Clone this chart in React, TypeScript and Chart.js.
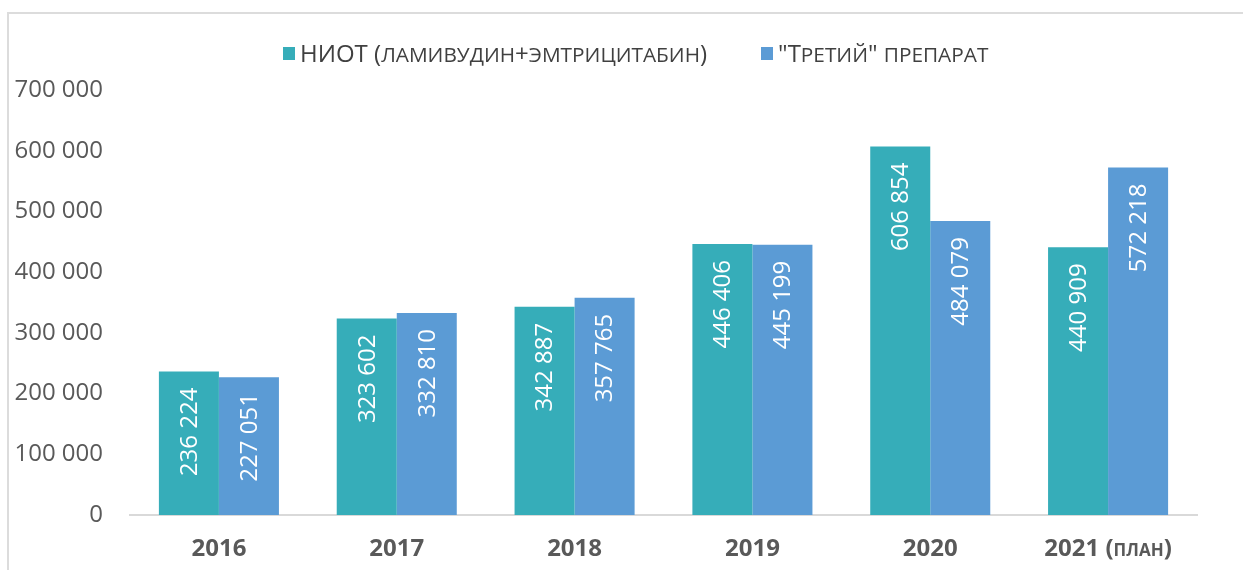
import React, { useEffect, useRef } from "react";
import { Chart, registerables } from "chart.js";

Chart.register(...registerables);

const categories = ["2016", "2017", "2018", "2019", "2020", "2021 (план)"];
const seriesNames = ["НИОТ (ламивудин+эмтрицитабин)", "\"Третий\" препарат"];
const niotValues = [236224, 323602, 342887, 446406, 606854, 440909];
const thirdValues = [227051, 332810, 357765, 445199, 484079, 572218];
const yTicks = [0, 100000, 200000, 300000, 400000, 500000, 600000, 700000];
const colors = ["#36ADB9", "#5B9BD5"];

const fmt = (v: number) => {
  const s = Math.round(v).toString();
  return s.replace(/\B(?=(\d{3})+(?!\d))/g, " ");
};

const FONT = "'Open Sans', 'DejaVu Sans', sans-serif";

const labelPlugin = {
  id: "barLabels",
  afterDatasetsDraw(chart: any) {
    const ctx = chart.ctx;
    chart.data.datasets.forEach((ds: any, di: number) => {
      const meta = chart.getDatasetMeta(di);
      meta.data.forEach((bar: any, i: number) => {
        const v = ds.data[i];
        ctx.save();
        ctx.translate(bar.x, bar.y + 16);
        ctx.rotate(-Math.PI / 2);
        ctx.font = `24px ${FONT}`;
        ctx.fillStyle = "#ffffff";
        ctx.textAlign = "right";
        ctx.textBaseline = "middle";
        ctx.fillText(fmt(v), 0, 1);
        ctx.restore();
      });
    });
  },
};

// Excel-like small caps: upper-case letters at full size,
// lower-case runs upper-cased at a smaller size.
const SmallCaps = ({ text }: { text: string }) => {
  const parts = text.match(/[a-zа-яё]+|[^a-zа-яё]+/g) || [];
  return (
    <>
      {parts.map((p, i) =>
        /[a-zа-яё]/.test(p) ? (
          <span key={i} style={{ fontSize: 20.8, textTransform: "uppercase" }}>
            {p}
          </span>
        ) : (
          <span key={i}>{p}</span>
        )
      )}
    </>
  );
};

export default function App() {
  const ref = useRef<HTMLCanvasElement>(null);
  useEffect(() => {
    if (!ref.current) return;
    const chart = new Chart(ref.current, {
      type: "bar",
      data: {
        labels: categories,
        datasets: [
          {
            label: seriesNames[0],
            data: niotValues,
            backgroundColor: colors[0],
            categoryPercentage: 0.675,
            barPercentage: 1,
          },
          {
            label: seriesNames[1],
            data: thirdValues,
            backgroundColor: colors[1],
            categoryPercentage: 0.675,
            barPercentage: 1,
          },
        ],
      },
      options: {
        responsive: false,
        animation: false,
        layout: { padding: { top: 90, right: 46, left: 0, bottom: 0 } },
        plugins: {
          legend: { display: false },
          tooltip: { enabled: false },
        },
        scales: {
          x: {
            grid: { display: false, drawTicks: false },
            border: { display: true, color: "#d9d9d9", width: 2 },
            ticks: {
              color: "#595959",
              padding: 20,
              font: { family: FONT, size: 24, weight: "small-caps bold" as any },
            },
            afterFit: (s: any) => {
              s.height = 55;
            },
          },
          y: {
            min: 0,
            max: 700000,
            grid: { display: false, drawTicks: false },
            border: { display: false },
            afterBuildTicks: (s: any) => {
              s.ticks = yTicks.map((v) => ({ value: v }));
            },
            ticks: {
              color: "#595959",
              padding: 27,
              font: { family: FONT, size: 24 },
              callback: (v: any) => fmt(Number(v)),
            },
            afterFit: (s: any) => {
              s.width = 130;
            },
          },
        },
      },
      plugins: [labelPlugin],
    });
    return () => chart.destroy();
  }, []);

  const legendItem = (name: string, color: string, ml: number) => (
    <div style={{ display: "flex", alignItems: "center", marginLeft: ml }}>
      <div style={{ width: 12, height: 13, background: color, marginRight: 5 }} />
      <span
        style={{
          fontFamily: FONT,
          fontSize: 24,
          color: "#404040",
          whiteSpace: "nowrap",
          lineHeight: "30px",
        }}
      >
        <SmallCaps text={name} />
      </span>
    </div>
  );

  return (
    <div style={{ position: "fixed", left: 0, top: 0, width: 1243, height: 570, overflow: "hidden", background: "#fff" }}>
      <div
        style={{
          position: "absolute",
          left: 7,
          top: 12,
          width: 1400,
          height: 700,
          borderTop: "2px solid #dcdcdc",
          borderLeft: "2px solid #dcdcdc",
        }}
      />
      <canvas ref={ref} width={1243} height={570} style={{ position: "absolute", left: 0, top: 0 }} />
      <div style={{ position: "absolute", left: 283, top: 38, display: "flex" }}>
        {legendItem(seriesNames[0], colors[0], 0)}
        {legendItem(seriesNames[1], colors[1], 54)}
      </div>
    </div>
  );
}
